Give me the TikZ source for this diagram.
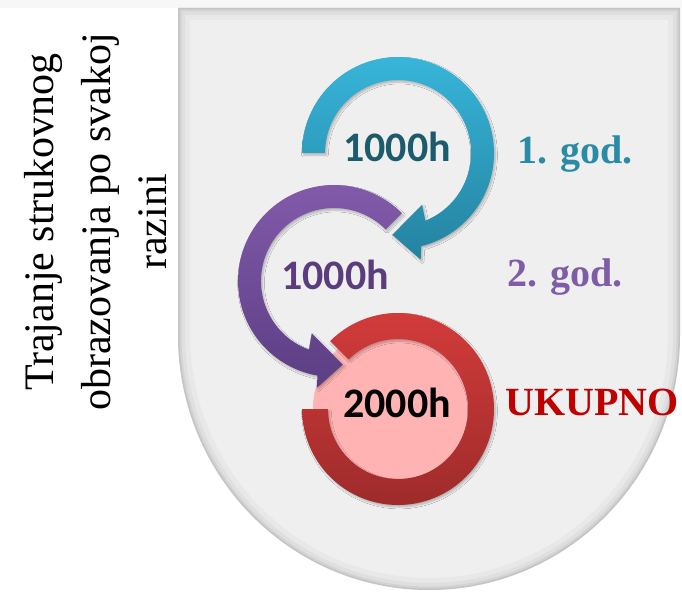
\documentclass[tikz,border=0pt]{standalone}
\usepackage{fontspec}
\setmainfont{Liberation Serif}
\newfontfamily\hfont{Carlito}
\usetikzlibrary{calc,shadows.blur}

\definecolor{panelgray}{HTML}{EFEFEF}
\definecolor{cyanA}{HTML}{37B5D9}
\definecolor{cyanB}{HTML}{2482A0}
\definecolor{violetA}{HTML}{845BAC}
\definecolor{violetB}{HTML}{5B3E83}
\definecolor{redA}{HTML}{D43C3B}
\definecolor{redB}{HTML}{9C2A2A}
\definecolor{pinkfill}{HTML}{FFB3B3}
\definecolor{cyanT}{HTML}{1C5B6C}
\definecolor{cyanY}{HTML}{2A8BA7}
\definecolor{violetT}{HTML}{5B3D7E}
\definecolor{violetY}{HTML}{7E5CA8}
\definecolor{sumred}{HTML}{C00000}

\begin{document}
\begin{tikzpicture}
[
	              x = 1pt,
	              y = -1pt,
	   panel/.style = { insert path={(178,8) -- (178,335) arc [start angle=180, end angle=0, x radius=251, y radius=255] -- (680,8) -- cycle} },
	    band/.style = { blur shadow={shadow xshift=1.5pt, shadow yshift=-2pt, shadow blur steps=6, shadow opacity=25} },
	   hours/.style = { anchor=base, font=\hfont\bfseries\fontsize{42}{42}\selectfont },
	    year/.style = { anchor=base, font=\bfseries\fontsize{40}{40}\selectfont }
]
	\useasboundingbox (0,0) rectangle (682,593);

	% background
	\fill [white] (0,0) rectangle (682,593);
	\fill [gray!6] (0,0) rectangle (682,8);
	\fill [panelgray] [panel];
	\begin{scope}
		\clip [panel];
		\draw [gray, opacity=0.06, line width=24] [panel];
		\draw [gray, opacity=0.08, line width=14] [panel];
		\draw [gray, opacity=0.12, line width=7] [panel];
		\draw [gray, opacity=0.18, line width=3] [panel];
	\end{scope}

	% title
	\node (title) at (96,222) [rotate=90, align=center, font=\fontsize{42}{56.5}\selectfont]
		{Trajanje strukovnog\\obrazovanja po svakoj\\razini};

	% total ring
	\coordinate (C3) at (398,409);
	\fill [pinkfill] (C3) circle [radius=85];
	\shade [band, top color=redA, bottom color=redB]
		($(C3)+(-135:96)$) arc [start angle=-135, end angle=180, radius=96]
		-- ($(C3)+(180:70)$) arc [start angle=180, end angle=-135, radius=70] -- cycle;

	% second arrow
	\coordinate (C2) at (334,281);
	\shade [band, top color=violetA, bottom color=violetB]
		($(C2)+(-45:96)$) arc [start angle=-45, end angle=-260, radius=96]
		-- ($(C2)+(-261:108)$) -- ($(C2)+(-276:84)$) -- ($(C2)+(-247:57)$)
		-- ($(C2)+(-250:73)$) arc [start angle=-250, end angle=-45, radius=73] -- cycle;

	% first arrow
	\coordinate (C1) at (398,153);
	\shade [band, top color=cyanA, bottom color=cyanB]
		($(C1)+(180:96)$) arc [start angle=180, end angle=436, radius=96]
		-- ($(C1)+(438:109)$) -- ($(C1)+(454:82)$) -- ($(C1)+(425:57)$)
		-- ($(C1)+(428:73)$) arc [start angle=428, end angle=180, radius=73] -- cycle;

	% labels
	\node (h1)  at (397,162) [hours, text=cyanT]   {1000h};
	\node (g1)  at (575,164) [year, text=cyanY]    {1. god.};
	\node (h2)  at (335,290) [hours, text=violetT] {1000h};
	\node (g2)  at (565,287) [year, text=violetY]  {2. god.};
	\node (h3)  at (397,417) [hours, text=black]   {2000h};
	\node (sum) at (592,415) [year, text=sumred]   {UKUPNO};
\end{tikzpicture}
\end{document}
